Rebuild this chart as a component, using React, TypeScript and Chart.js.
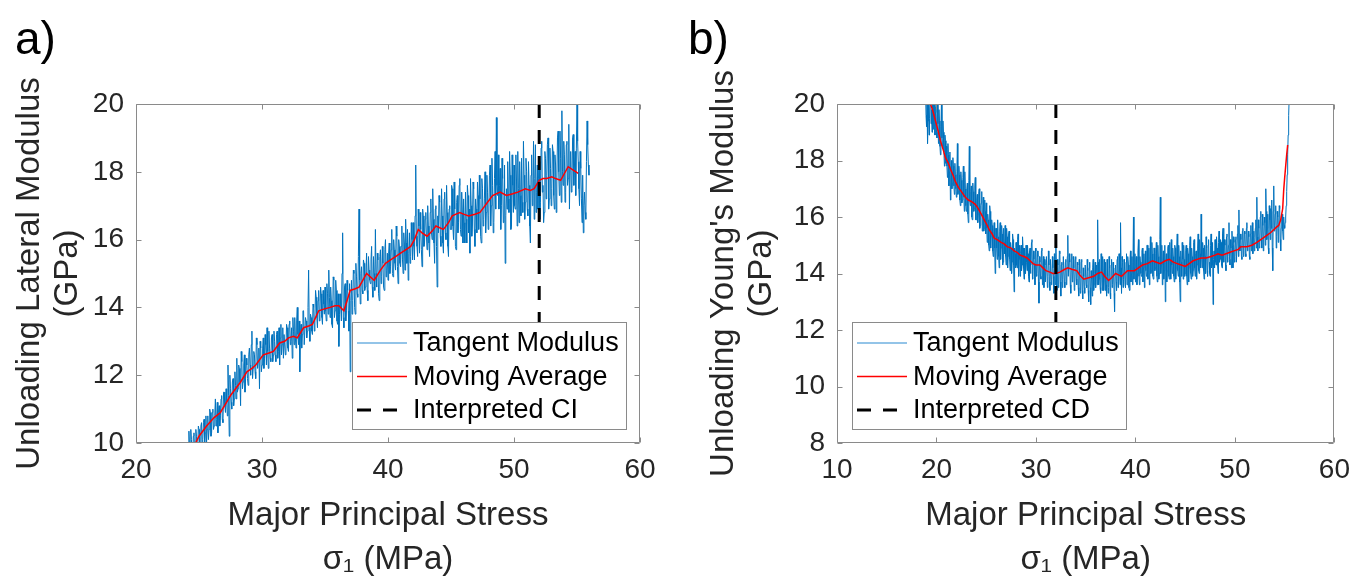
import React, { useEffect, useRef } from 'react';
import { Chart, registerables } from 'chart.js';

Chart.register(...registerables);

const FONT = "'Liberation Sans', Arial, Helvetica, sans-serif";
const BLUE = '#0072BD';
const RED = '#FF0000';
const AXIS_GRAY = '#8a8a8a';
const TEXT_DARK = '#262626';

// ---------------- panel a) ----------------
const xTicksA = [20, 30, 40, 50, 60];
const yTicksA = [10, 12, 14, 16, 18, 20];
const tangentAStart = 24.0;
const tangentAStep = 0.1;
// samples at 24.0, 24.1, ... 55.9
const tangentA = [
  9.3, 9.8, 10.35, 9.5, 10.1, 9.6, 10.3, 9.7, 10.2, 9.9,
  10.4, 9.9, 10.6, 10.1, 10.7, 10.3, 10.0, 10.8, 10.4, 10.9,
  10.3, 11.0, 10.5, 11.3, 10.7, 10.3, 11.1, 10.8, 11.4, 10.6,
  11.5, 10.9, 11.2, 12.3, 10.2, 11.6, 11.0, 11.9, 11.3, 11.7,
  12.5, 11.6, 12.2, 11.1, 12.4, 11.8, 12.6, 11.9, 12.3, 11.7,
  12.8, 12.0, 13.3, 12.2, 12.6, 11.9, 12.9, 12.4, 11.6, 12.8,
  12.3, 13.1, 12.5, 12.9, 13.4, 12.2, 12.8, 12.4, 13.2, 12.6,
  13.0, 12.4, 13.3, 12.7, 12.3, 13.5, 12.9, 12.5, 13.2, 12.8,
  13.4, 12.7, 13.6, 13.0, 12.5, 13.3, 13.7, 12.8, 14.0, 12.9,
  12.1, 13.5, 13.2, 13.9, 12.9, 13.6, 13.3, 15.1, 13.0, 13.7,
  13.2, 14.0, 13.6, 14.3, 13.4, 14.5, 13.8, 14.4, 13.5, 14.1,
  14.6, 13.6, 14.4, 15.1, 13.7, 14.2, 13.4, 14.8, 13.9, 14.5,
  13.5, 12.85, 14.4, 13.6, 16.2, 13.4, 14.7, 13.9, 14.5, 13.3,
  12.1, 14.8, 14.2, 15.0, 13.8, 14.9, 14.3, 16.9, 14.1, 15.2,
  14.4, 15.3, 14.6, 15.6, 14.2, 15.1, 14.7, 15.8, 14.3, 15.0,
  16.3, 14.6, 15.4, 14.2, 15.7, 14.9, 15.3, 14.5, 16.0, 15.1,
  14.8, 15.9, 15.2, 16.3, 14.9, 15.7, 15.1, 16.1, 14.7, 15.8,
  15.2, 16.4, 15.0, 15.9, 16.6, 15.3, 14.8, 16.2, 15.5, 16.0,
  16.5, 15.4, 18.2, 15.8, 16.9, 15.6, 16.3, 15.2, 16.7, 15.9,
  16.8, 15.7, 16.4, 15.5, 17.2, 16.0, 16.6, 15.3, 17.0, 14.6,
  16.2, 17.1, 15.8, 16.7, 15.6, 17.4, 16.0, 16.8, 15.5, 17.0,
  16.3, 17.5, 16.0, 16.9, 15.7, 17.3, 16.5, 17.8, 16.1, 16.8,
  17.2, 15.9, 16.6, 17.6, 16.2, 15.6, 17.0, 16.4, 17.5, 15.8,
  16.9, 17.7, 16.3, 17.2, 15.9, 17.5, 16.6, 18.0, 16.8, 17.4,
  16.7, 18.2, 17.0, 17.6, 16.5, 18.6, 19.6, 17.3, 16.9, 18.1,
  17.0, 17.8, 16.6, 15.3, 17.5, 18.3, 16.8, 17.9, 16.4, 17.6,
  18.2, 16.9, 17.7, 18.6, 16.5, 17.3, 18.4, 16.8, 17.9, 17.1,
  18.0, 16.7, 17.6, 15.9, 18.5, 17.2, 16.6, 18.8, 17.4, 16.9,
  18.3, 17.1, 18.9, 17.6, 16.8, 18.4, 17.9, 19.0, 17.2, 18.1,
  17.5, 18.6, 16.9, 18.2, 17.7, 19.2, 17.3, 18.4, 19.8, 17.6,
  18.5, 17.4, 18.9, 17.8, 16.9, 18.6, 17.5, 19.1, 18.2, 17.3,
  20.0, 18.3, 17.0, 18.1, 16.5, 16.2, 17.4, 16.6, 19.5, 18.2,
];
// samples in between, at 24.05, 24.15, ... 55.95
const tangentAMid = [
  10.0, 9.4, 9.9, 10.4, 9.5, 10.2, 9.8, 10.4, 9.6, 10.5,
  9.8, 10.5, 10.0, 10.6, 9.9, 10.8, 10.4, 10.1, 11.0, 10.2,
  10.9, 10.4, 10.8, 10.5, 11.2, 10.9, 10.5, 11.3, 10.7, 11.5,
  11.1, 11.6, 10.8, 11.4, 12.0, 11.2, 11.8, 11.1, 12.1, 11.3,
  11.5, 12.3, 11.8, 12.7, 11.6, 12.3, 11.5, 12.5, 11.9, 12.6,
  12.3, 12.9, 11.9, 12.7, 12.1, 13.1, 12.2, 12.8, 13.0, 12.1,
  12.8, 12.2, 13.2, 12.3, 12.7, 13.3, 12.5, 13.1, 12.4, 13.3,
  12.6, 13.2, 12.5, 13.4, 13.1, 12.6, 13.4, 13.2, 12.6, 13.5,
  12.8, 13.5, 12.9, 13.4, 13.7, 12.9, 13.1, 13.6, 13.2, 13.6,
  13.2, 12.8, 13.9, 12.9, 13.7, 13.1, 14.0, 13.4, 13.8, 13.3,
  14.1, 13.3, 14.5, 13.7, 14.2, 13.6, 14.6, 13.7, 14.5, 13.8,
  13.9, 14.7, 13.8, 14.3, 14.6, 13.5, 14.9, 13.7, 14.8, 13.6,
  14.4, 13.8, 14.0, 15.0, 13.7, 14.6, 13.6, 14.8, 13.9, 14.7,
  14.2, 13.8, 15.1, 14.0, 15.3, 14.4, 15.5, 14.8, 15.0, 14.5,
  15.4, 14.5, 15.0, 14.5, 15.5, 14.8, 15.4, 14.6, 15.5, 14.5,
  15.0, 15.6, 14.4, 15.5, 14.7, 15.8, 14.6, 15.7, 14.9, 15.6,
  15.6, 15.0, 15.7, 15.0, 16.0, 15.3, 16.4, 15.2, 16.0, 15.3,
  15.8, 15.4, 16.2, 15.1, 15.9, 16.3, 15.6, 15.3, 16.5, 15.4,
  15.8, 16.7, 16.1, 15.5, 16.4, 16.8, 15.7, 16.9, 15.8, 16.6,
  16.1, 17.0, 15.9, 16.8, 16.2, 17.5, 15.9, 16.9, 15.8, 16.7,
  17.3, 16.1, 17.5, 15.9, 17.2, 16.2, 17.6, 15.8, 16.9, 16.3,
  17.6, 16.4, 17.7, 15.8, 17.1, 16.2, 17.6, 16.3, 17.4, 15.9,
  16.5, 17.4, 15.9, 17.3, 16.9, 17.8, 16.1, 17.7, 16.3, 17.2,
  16.2, 17.3, 17.9, 16.1, 17.8, 16.4, 17.2, 16.2, 17.9, 16.3,
  17.9, 16.4, 18.4, 16.2, 17.8, 16.9, 17.6, 18.5, 17.6, 16.3,
  18.4, 16.5, 18.2, 16.7, 16.9, 17.2, 18.6, 16.3, 18.5, 16.8,
  17.0, 18.5, 16.4, 17.5, 18.3, 16.7, 17.1, 18.9, 16.6, 18.4,
  16.9, 18.3, 16.4, 17.9, 17.0, 18.9, 17.8, 16.8, 18.2, 17.8,
  16.6, 18.7, 17.4, 16.5, 18.6, 17.2, 18.8, 16.9, 18.7, 17.0,
  18.8, 17.3, 18.5, 16.8, 19.0, 18.0, 19.2, 17.1, 18.0, 18.9,
  17.1, 18.8, 17.6, 19.4, 18.1, 17.4, 19.0, 17.6, 18.6, 18.7,
  18.9, 17.5, 18.6, 17.2, 17.9, 17.0, 16.8, 18.3, 18.8, 17.9,
];
const movingAvgAX = [
  24.6, 25.0, 25.6, 26.2, 26.7, 27.1, 27.5, 27.9, 28.3, 28.8,
  29.2, 29.5, 30.1, 30.5, 30.9, 31.4, 31.8, 32.1, 32.5, 32.8,
  33.3, 33.7, 34.0, 34.5, 34.9, 35.4, 35.8, 36.1, 36.5, 37.0,
  37.4, 37.7, 38.3, 38.9, 39.4, 39.8, 40.2, 40.6, 41.0, 41.4,
  41.8, 42.1, 42.4, 42.7, 43.1, 43.5, 43.8, 44.1, 44.4, 44.8,
  45.1, 45.4, 45.7, 46.0, 46.4, 46.9, 47.3, 47.6, 47.9, 48.3,
  48.9, 49.4, 49.9, 50.3, 50.9, 51.3, 51.6, 52.0, 52.3, 52.6,
  53.0, 53.3, 53.7, 54.0, 54.3, 54.7, 55.1,
];
const movingAvgAY = [
  9.9, 10.2, 10.5, 10.75, 10.9, 11.15, 11.4, 11.6, 11.8, 12.1,
  12.2, 12.3, 12.6, 12.65, 12.7, 12.95, 13.0, 13.1, 13.15, 13.1,
  13.4, 13.45, 13.5, 13.9, 13.95, 14.0, 14.05, 14.05, 13.9, 14.5,
  14.55, 14.6, 15.0, 14.8, 15.1, 15.3, 15.4, 15.5, 15.6, 15.7,
  15.8, 16.0, 16.3, 16.2, 16.1, 16.25, 16.4, 16.35, 16.3, 16.5,
  16.7, 16.75, 16.8, 16.75, 16.7, 16.75, 16.8, 16.95, 17.1, 17.3,
  17.4, 17.3, 17.35, 17.4, 17.5, 17.45, 17.5, 17.75, 17.8, 17.8,
  17.85, 17.8, 17.75, 17.95, 18.15, 18.05, 17.95,
];
const ciStress = 52;

// ---------------- panel b) ----------------
const xTicksB = [10, 20, 30, 40, 50, 60];
const yTicksB = [8, 10, 12, 14, 16, 18, 20];
const tangentBStart = 18.9;
const tangentBStep = 0.1;
// samples at 18.9, 19.0, ... 55.5
const tangentB = [
  20.5,
  19.2, 18.6, 20.3, 19.5, 21.0, 19.8, 20.4, 19.1, 20.6, 19.7,
  19.0, 20.2, 18.6, 19.4, 18.2, 20.1, 18.5, 19.0, 17.8, 18.7,
  18.5, 17.4, 18.2, 17.6, 16.6, 18.0, 17.2, 17.8, 16.8, 17.5,
  16.7, 18.6, 16.9, 17.5, 16.4, 17.3, 16.6, 17.8, 16.2, 17.0,
  16.2, 17.2, 15.8, 18.5, 16.4, 17.1, 15.9, 16.9, 16.3, 17.4,
  15.9, 16.8, 16.1, 17.0, 15.7, 16.5, 15.5, 16.7, 15.6, 16.2,
  16.5, 15.1, 15.9, 14.8, 16.2, 15.3, 15.7, 14.6, 15.8, 14.0,
  15.6, 14.5, 15.3, 14.2, 15.8, 14.9, 15.4, 14.4, 15.1, 15.7,
  14.3, 15.3, 14.6, 15.5, 14.1, 14.9, 14.4, 15.2, 13.35, 14.7,
  15.1, 14.2, 15.4, 14.5, 13.9, 15.0, 14.3, 14.9, 13.8, 14.6,
  15.0, 14.1, 14.7, 13.7, 14.9, 14.3, 15.2, 13.9, 14.5, 13.6,
  14.8, 14.0, 14.6, 12.95, 14.4, 13.8, 14.9, 14.1, 13.5, 14.3,
  13.7, 14.6, 13.9, 14.3, 13.4, 14.5, 13.8, 14.2, 13.3, 14.4,
  15.1, 13.4, 14.3, 13.6, 14.7, 13.2, 14.4, 13.8, 14.6, 13.5,
  14.5, 13.7, 15.35, 13.9, 14.4, 13.3, 14.7, 13.8, 14.2, 13.5,
  14.6, 13.6, 14.3, 13.2, 14.0, 13.4, 14.5, 13.1, 13.9, 13.3,
  14.3, 13.5, 14.1, 13.0, 14.4, 12.9, 13.8, 14.2, 13.4, 14.0,
  13.5, 14.3, 15.9, 13.6, 14.5, 13.3, 14.1, 14.6, 13.4, 13.9,
  14.4, 13.2, 13.9, 13.5, 14.2, 13.1, 14.5, 13.6, 14.0, 12.65,
  14.3, 13.4, 14.6, 13.7, 14.1, 15.8, 13.3, 14.4, 13.8, 14.2,
  13.5, 14.7, 13.9, 14.3, 13.4, 14.8, 14.0, 13.6, 16.0, 14.2,
  13.7, 14.6, 14.0, 15.2, 13.6, 14.4, 13.9, 14.9, 14.2, 13.5,
  14.8, 13.9, 15.0, 14.3, 13.6, 15.3, 14.1, 14.7, 13.8, 14.9,
  14.2, 15.1, 13.7, 14.6, 14.0, 16.7, 14.3, 13.6, 14.8, 14.1,
  13.0, 14.7, 14.1, 15.0, 13.8, 14.5, 15.2, 14.0, 14.6, 13.7,
  14.9, 14.2, 15.4, 13.9, 14.6, 13.0, 14.4, 15.1, 13.8, 14.5,
  14.0, 15.0, 13.6, 14.7, 14.2, 15.3, 13.8, 14.6, 14.1, 15.2,
  13.9, 14.8, 14.3, 15.4, 14.0, 14.7, 16.1, 14.2, 14.9, 13.8,
  14.6, 15.3, 14.1, 15.0, 14.4, 13.9, 15.4, 14.3, 12.9, 14.8,
  15.2, 14.3, 14.9, 14.0, 15.5, 14.5, 15.1, 14.2, 15.6, 14.4,
  15.0, 14.1, 15.4, 14.6, 15.8, 14.3, 14.9, 15.5, 14.2, 15.1,
  14.6, 15.3, 14.4, 15.7, 16.25, 14.8, 15.2, 14.5, 15.6, 14.9,
  15.4, 14.6, 15.8, 14.9, 15.3, 14.5, 15.7, 15.0, 14.7, 15.5,
  15.1, 15.9, 16.7, 14.8, 15.6, 15.0, 16.2, 14.9, 15.7, 15.3,
  15.8, 17.0, 15.2, 16.1, 14.7, 15.9, 16.3, 16.6, 14.1, 17.1,
  15.7, 16.4, 15.3, 16.0, 15.6, 16.3, 14.8, 15.9, 15.5, 16.0,
  15.6, 16.0, 16.9, 18.2, 19.6, 20.8,
];
// samples in between, at 18.95, 19.05, ... 55.45
const tangentBMid = [
  19.6,
  20.1, 19.4, 18.9, 20.5, 19.3, 19.0, 20.2, 19.6, 18.9, 19.9,
  18.8, 19.3, 19.8, 18.5, 19.2, 18.8, 19.4, 18.3, 18.9, 17.9,
  17.8, 18.6, 17.1, 18.3, 17.6, 17.0, 18.1, 17.1, 17.9, 17.0,
  17.6, 16.8, 17.8, 16.6, 17.6, 16.5, 17.4, 16.7, 17.6, 16.4,
  17.0, 16.1, 17.3, 16.6, 16.9, 16.0, 17.2, 16.2, 17.1, 15.9,
  16.6, 15.8, 16.9, 15.6, 16.4, 16.9, 16.1, 15.5, 16.6, 15.4,
  15.6, 16.1, 15.0, 16.4, 14.9, 15.9, 14.8, 15.5, 14.9, 15.6,
  14.9, 15.9, 14.6, 15.5, 14.5, 15.7, 14.3, 15.6, 14.7, 14.6,
  15.6, 14.2, 15.4, 14.5, 15.1, 14.0, 15.4, 14.3, 14.9, 14.2,
  14.3, 15.2, 13.9, 15.0, 14.7, 14.1, 15.3, 14.2, 14.9, 14.0,
  14.4, 15.0, 13.9, 14.8, 14.0, 15.1, 13.8, 14.8, 14.3, 14.9,
  13.9, 14.8, 13.7, 14.6, 13.9, 14.8, 13.6, 14.6, 14.5, 13.7,
  14.6, 13.5, 14.8, 13.7, 14.5, 13.6, 14.6, 13.9, 14.7, 13.6,
  14.2, 14.5, 13.5, 14.8, 13.7, 14.3, 13.5, 14.6, 13.7, 14.4,
  13.6, 14.6, 13.9, 14.7, 13.6, 14.5, 13.7, 14.6, 13.4, 14.5,
  13.8, 14.4, 13.5, 14.5, 13.3, 14.4, 13.4, 14.2, 13.5, 14.3,
  13.6, 14.5, 13.4, 14.2, 13.5, 14.1, 13.2, 14.5, 13.6, 14.4,
  14.1, 13.6, 14.4, 13.8, 13.5, 14.7, 13.4, 14.0, 14.5, 13.4,
  13.6, 14.5, 13.3, 14.6, 13.3, 14.3, 13.5, 14.4, 13.3, 14.2,
  13.7, 14.5, 13.5, 14.7, 13.6, 14.2, 14.6, 13.5, 14.5, 13.6,
  14.4, 13.6, 14.6, 13.5, 14.5, 13.7, 14.6, 14.4, 13.8, 14.7,
  14.5, 13.6, 14.8, 13.9, 14.6, 14.0, 14.8, 13.7, 14.7, 14.4,
  14.1, 15.0, 13.8, 14.9, 14.5, 14.0, 15.1, 13.9, 14.9, 14.1,
  14.7, 13.9, 15.0, 13.8, 15.2, 14.0, 15.0, 14.4, 13.8, 15.0,
  14.4, 13.7, 14.9, 13.9, 15.1, 13.8, 14.3, 14.9, 13.9, 15.0,
  13.8, 14.9, 14.1, 15.0, 13.7, 14.8, 13.9, 14.5, 15.0, 13.9,
  14.8, 13.9, 14.9, 13.7, 15.0, 14.0, 14.9, 13.9, 15.1, 14.2,
  14.7, 13.8, 14.9, 14.1, 15.2, 14.2, 14.6, 15.1, 14.1, 15.0,
  14.0, 14.9, 13.9, 15.2, 14.0, 15.0, 14.2, 15.1, 14.5, 14.2,
  14.4, 15.3, 14.3, 15.1, 14.4, 15.2, 14.3, 15.4, 14.5, 15.2,
  14.3, 15.3, 14.4, 15.0, 14.5, 15.2, 14.2, 15.0, 15.3, 14.4,
  15.2, 14.4, 15.4, 14.6, 15.0, 15.4, 14.6, 15.5, 14.6, 15.5,
  14.7, 15.6, 14.8, 15.5, 14.6, 15.4, 14.8, 15.8, 15.3, 14.8,
  15.6, 14.9, 15.3, 15.9, 14.9, 16.0, 15.2, 16.1, 14.8, 16.0,
  15.0, 16.2, 15.6, 14.9, 16.4, 15.2, 15.6, 14.9, 16.2, 15.5,
  16.1, 14.9, 16.2, 15.1, 16.4, 15.2, 15.6, 16.1, 15.2, 15.7,
  15.8, 16.4, 17.5, 18.9, 20.2,
];
const movingAvgBX = [
  19.3, 19.6, 19.9, 20.2, 20.4, 20.7, 20.9, 21.2, 21.4, 21.7,
  21.9, 22.2, 22.4, 22.7, 22.9, 23.2, 23.5, 23.9, 24.2, 24.5,
  24.8, 25.1, 25.3, 25.6, 25.8, 26.1, 26.5, 26.8, 27.1, 27.5,
  27.8, 28.1, 28.4, 28.8, 29.1, 29.4, 29.7, 30.0, 30.4, 30.7,
  31.0, 31.4, 31.7, 32.0, 32.4, 32.9, 33.2, 33.6, 34.1, 34.4,
  34.8, 35.3, 35.8, 36.2, 36.6, 36.9, 37.3, 37.6, 38.0, 38.3,
  38.6, 38.9, 39.2, 39.6, 39.9, 40.3, 40.7, 41.2, 41.7, 42.1,
  42.5, 43.0, 43.4, 43.8, 44.2, 44.6, 45.0, 45.4, 45.8, 46.2,
  46.6, 47.1, 47.6, 48.0, 48.3, 48.7, 49.1, 49.5, 49.9, 50.3,
  50.6, 51.2, 51.7, 52.2, 52.6, 53.2, 53.6, 53.9, 54.2, 54.4,
  54.6, 54.8, 54.9, 55.0, 55.1, 55.2, 55.3,
];
const movingAvgBY = [
  20.1, 19.8, 19.4, 19.0, 18.7, 18.35, 18.1, 17.9, 17.7, 17.45,
  17.25, 17.05, 16.95, 16.8, 16.7, 16.6, 16.55, 16.45, 16.3, 16.1,
  15.9, 15.7, 15.55, 15.4, 15.25, 15.2, 15.1, 15.05, 14.95, 14.9,
  14.8, 14.75, 14.65, 14.6, 14.55, 14.45, 14.35, 14.3, 14.3, 14.2,
  14.1, 14.05, 14.0, 14.0, 14.05, 14.15, 14.2, 14.15, 14.1, 13.95,
  13.8, 13.85, 13.9, 14.0, 14.05, 13.9, 13.75, 13.85, 14.0, 13.95,
  13.9, 14.0, 14.1, 14.1, 14.1, 14.2, 14.3, 14.35, 14.45, 14.4,
  14.35, 14.45, 14.5, 14.4, 14.35, 14.3, 14.25, 14.35, 14.45, 14.5,
  14.55, 14.55, 14.6, 14.65, 14.7, 14.65, 14.7, 14.75, 14.8, 14.85,
  14.95, 14.95, 15.0, 15.1, 15.2, 15.35, 15.45, 15.55, 15.65, 15.7,
  15.9, 16.3, 16.95, 17.4, 17.8, 18.2, 18.55,
];
const cdStress = 32;

const legendLabelsA = ['Tangent Modulus', 'Moving Average', 'Interpreted CI'];
const legendLabelsB = ['Tangent Modulus', 'Moving Average', 'Interpreted CD'];
const xTitle = ['Major Principal Stress', 'σ₁ (MPa)'];
const yTitleA = ['Unloading Lateral Modulus', '(GPa)'];
const yTitleB = ["Unloading Young's Modulus", '(GPa)'];

type PanelSpec = {
  label: string;
  canvasWidth: number;
  yAxisWidth: number;
  padRight: number;
  yTitlePad: number;
  xTicks: number[];
  yTicks: number[];
  yTitle: string[];
  tangentStart: number;
  tangentStep: number;
  tangent: number[];
  tangentMid: number[];
  avgX: number[];
  avgY: number[];
  critical: number;
  legendLabels: string[];
  legendCorner: 'se' | 'sw';
  legendMargin: number;
  labelX: number;
};

const decorPlugin = {
  id: 'decor',
  afterDraw(chart: any, _args: any, opts: any) {
    const { ctx, chartArea: ca, scales } = chart;
    const xs = scales.x;
    const ys = scales.y;
    ctx.save();
    // axes box with inward ticks (MATLAB style)
    ctx.strokeStyle = AXIS_GRAY;
    ctx.lineWidth = 1;
    const L = Math.round(ca.left) + 0.5;
    const R = Math.round(ca.right) - 0.5;
    const T = Math.round(ca.top) + 0.5;
    const B = Math.round(ca.bottom) - 0.5;
    const tk = 5;
    ctx.beginPath();
    ctx.rect(L, T, R - L, B - T);
    xs.ticks.forEach((t: any) => {
      const p = Math.round(xs.getPixelForValue(t.value)) + 0.5;
      ctx.moveTo(p, B); ctx.lineTo(p, B - tk);
      ctx.moveTo(p, T); ctx.lineTo(p, T + tk);
    });
    ys.ticks.forEach((t: any) => {
      const p = Math.round(ys.getPixelForValue(t.value)) + 0.5;
      ctx.moveTo(L, p); ctx.lineTo(L + tk, p);
      ctx.moveTo(R, p); ctx.lineTo(R - tk, p);
    });
    ctx.stroke();

    // legend box
    const lw = 274;
    const lh = 107;
    const lx = Math.round(opts.corner === 'se' ? ca.right - opts.margin - lw : ca.left + opts.margin);
    const ly = Math.round(ca.bottom - 14 - lh);
    ctx.fillStyle = '#ffffff';
    ctx.fillRect(lx, ly, lw, lh);
    ctx.strokeStyle = AXIS_GRAY;
    ctx.lineWidth = 1;
    ctx.strokeRect(lx + 0.5, ly + 0.5, lw, lh);
    chart.data.datasets.forEach((ds: any, i: number) => {
      const cy = ly + 21 + i * 33.5;
      ctx.beginPath();
      ctx.setLineDash(ds.borderDash || []);
      ctx.strokeStyle = ds.legendColor || ds.borderColor;
      ctx.lineWidth = ds.legendWidth || ds.borderWidth;
      ctx.moveTo(lx + 5, cy);
      ctx.lineTo(lx + 55, cy);
      ctx.stroke();
      ctx.setLineDash([]);
      ctx.fillStyle = '#000000';
      ctx.font = `27px ${FONT}`;
      ctx.textBaseline = 'middle';
      ctx.textAlign = 'left';
      ctx.fillText(ds.label, lx + 61, cy + 1);
    });

    // panel label
    ctx.font = `46px ${FONT}`;
    ctx.fillStyle = '#000000';
    ctx.textBaseline = 'alphabetic';
    ctx.textAlign = 'left';
    ctx.fillText(opts.label, opts.labelX, 54);
    ctx.restore();
  },
};

function makeConfig(s: PanelSpec): any {
  const tangentPts: { x: number; y: number }[] = [];
  s.tangent.forEach((v, i) => {
    const x0 = s.tangentStart + i * s.tangentStep;
    tangentPts.push({ x: Math.round(x0 * 100) / 100, y: v });
    if (i < s.tangentMid.length) {
      tangentPts.push({ x: Math.round((x0 + s.tangentStep / 2) * 100) / 100, y: s.tangentMid[i] });
    }
  });
  const n = Math.min(s.avgX.length, s.avgY.length);
  const avgPts = s.avgX.slice(0, n).map((x, i) => ({ x, y: s.avgY[i] }));
  const yMin = s.yTicks[0];
  const yMax = s.yTicks[s.yTicks.length - 1];
  // drawn from the top so the dash pattern starts at the upper axis
  const critPts = [
    { x: s.critical, y: yMax },
    { x: s.critical, y: yMin },
  ];
  const tickFont = { family: FONT, size: 28 };
  return {
    type: 'line',
    data: {
      datasets: [
        {
          label: s.legendLabels[0],
          data: tangentPts,
          borderColor: BLUE,
          legendColor: '#6fb0e0',
          borderWidth: 1,
          legendWidth: 1.5,
          pointRadius: 0,
          tension: 0,
          order: 3,
        },
        {
          label: s.legendLabels[1],
          data: avgPts,
          borderColor: RED,
          borderWidth: 1.5,
          pointRadius: 0,
          tension: 0,
          order: 2,
        },
        {
          label: s.legendLabels[2],
          data: critPts,
          borderColor: '#000000',
          borderWidth: 3,
          borderDash: [14, 12],
          borderCapStyle: 'butt',
          pointRadius: 0,
          order: 1,
        },
      ],
    },
    options: {
      animation: false,
      responsive: false,
      maintainAspectRatio: false,
      devicePixelRatio: 1,
      events: [],
      layout: { padding: { left: 0, top: 104, right: s.padRight, bottom: 0 } },
      plugins: {
        legend: { display: false },
        tooltip: { enabled: false },
        title: { display: false },
        decor: {
          label: s.label,
          labelX: s.labelX,
          corner: s.legendCorner,
          margin: s.legendMargin,
        },
      },
      scales: {
        x: {
          type: 'linear',
          position: 'bottom',
          min: s.xTicks[0],
          max: s.xTicks[s.xTicks.length - 1],
          afterBuildTicks: (sc: any) => {
            sc.ticks = s.xTicks.map((v) => ({ value: v }));
          },
          afterFit: (sc: any) => {
            sc.height = 141;
          },
          ticks: {
            font: tickFont,
            color: TEXT_DARK,
            padding: 10,
            maxRotation: 0,
            minRotation: 0,
            autoSkip: false,
          },
          grid: { display: false, drawTicks: false },
          border: { display: false },
          title: {
            display: true,
            text: xTitle,
            color: TEXT_DARK,
            font: { family: FONT, size: 33, lineHeight: 44 / 33 },
            padding: { top: 0, bottom: 2 },
          },
        },
        y: {
          type: 'linear',
          position: 'left',
          min: yMin,
          max: yMax,
          afterBuildTicks: (sc: any) => {
            sc.ticks = s.yTicks.map((v) => ({ value: v }));
          },
          afterFit: (sc: any) => {
            sc.width = s.yAxisWidth;
          },
          ticks: {
            font: tickFont,
            color: TEXT_DARK,
            padding: 12,
            autoSkip: false,
          },
          grid: { display: false, drawTicks: false },
          border: { display: false },
          title: {
            display: true,
            text: s.yTitle,
            color: TEXT_DARK,
            font: { family: FONT, size: 33, lineHeight: 38 / 33 },
            padding: { top: s.yTitlePad, bottom: 0 },
          },
        },
      },
    },
    plugins: [decorPlugin],
  };
}

const specA: PanelSpec = {
  label: 'a)',
  canvasWidth: 680,
  yAxisWidth: 136,
  padRight: 40,
  yTitlePad: 11,
  xTicks: xTicksA,
  yTicks: yTicksA,
  yTitle: yTitleA,
  tangentStart: tangentAStart,
  tangentStep: tangentAStep,
  tangent: tangentA,
  tangentMid: tangentAMid,
  avgX: movingAvgAX,
  avgY: movingAvgAY,
  critical: ciStress,
  legendLabels: legendLabelsA,
  legendCorner: 'se',
  legendMargin: 14,
  labelX: 15,
};

const specB: PanelSpec = {
  label: 'b)',
  canvasWidth: 680,
  yAxisWidth: 157,
  padRight: 18,
  yTitlePad: 25,
  xTicks: xTicksB,
  yTicks: yTicksB,
  yTitle: yTitleB,
  tangentStart: tangentBStart,
  tangentStep: tangentBStep,
  tangent: tangentB,
  tangentMid: tangentBMid,
  avgX: movingAvgBX,
  avgY: movingAvgBY,
  critical: cdStress,
  legendLabels: legendLabelsB,
  legendCorner: 'sw',
  legendMargin: 15,
  labelX: 8,
};

function Panel({ spec, left }: { spec: PanelSpec; left: number }) {
  const ref = useRef<HTMLCanvasElement | null>(null);
  useEffect(() => {
    if (!ref.current) return;
    const chart = new Chart(ref.current, makeConfig(spec));
    return () => chart.destroy();
  }, [spec]);
  return (
    <canvas
      ref={ref}
      width={spec.canvasWidth}
      height={584}
      style={{
        position: 'absolute',
        left,
        top: 0,
        width: spec.canvasWidth,
        height: 584,
        display: 'block',
      }}
    />
  );
}

export default function App() {
  return (
    <div
      style={{
        position: 'fixed',
        left: 0,
        top: 0,
        width: 1360,
        height: 584,
        background: '#ffffff',
        overflow: 'hidden',
      }}
    >
      <Panel spec={specA} left={0} />
      <Panel spec={specB} left={680} />
    </div>
  );
}
